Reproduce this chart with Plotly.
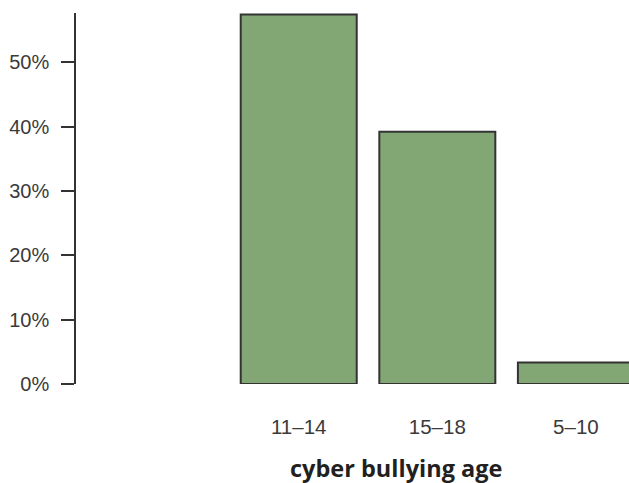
import plotly.graph_objects as go

categories = ["11\u201314", "15\u201318", "5\u201310"]
values = [57.4, 39.2, 3.35]
ytick_vals = [0, 10, 20, 30, 40, 50]
ytick_text = ["0%", "10%", "20%", "30%", "40%", "50%"]
x_title = "cyber bullying age"

W, H = 629, 483
L, T = 76, 13
B = H - 384.3
PW = W - L
PH = H - T - B

fig = go.Figure(
    go.Bar(
        x=categories,
        y=values,
        width=0.837,
        marker=dict(color="rgb(130,166,116)", line=dict(color="#333333", width=2)),
        hoverinfo="skip",
    )
)

fig.update_layout(
    width=W,
    height=H,
    margin=dict(l=L, r=0, t=T, b=B, pad=0),
    paper_bgcolor="white",
    plot_bgcolor="white",
    showlegend=False,
    font=dict(family="Liberation Sans, Arial, sans-serif", size=20, color="#3a3a3a"),
)

fig.update_xaxes(
    type="category",
    range=[-1.607, 2.383],
    showline=False,
    showgrid=False,
    zeroline=False,
    ticks="",
    ticklabelstandoff=28,
    tickfont=dict(size=20.5, color="#3a3a3a"),
)

fig.update_yaxes(
    range=[0, 57.65],
    tickvals=ytick_vals,
    ticktext=ytick_text,
    showline=True,
    linecolor="#333333",
    linewidth=1.5,
    ticks="outside",
    ticklen=13,
    tickwidth=1.5,
    tickcolor="#333333",
    showgrid=False,
    zeroline=False,
    ticklabelstandoff=8,
    tickfont=dict(size=20, color="#3a3a3a"),
)

title_y_px = 468.5
fig.add_annotation(
    text="<b>" + x_title + "</b>",
    xref="paper",
    yref="paper",
    x=(396 - L) / PW,
    y=1 - (title_y_px - T) / PH,
    xanchor="center",
    yanchor="middle",
    showarrow=False,
    font=dict(family="Open Sans, sans-serif", size=23.5, color="#231f20"),
)

fig.write_html(
    "out.html",
    config={"displayModeBar": False},
    post_script="document.body.style.margin='0';document.body.style.overflow='hidden';",
)
